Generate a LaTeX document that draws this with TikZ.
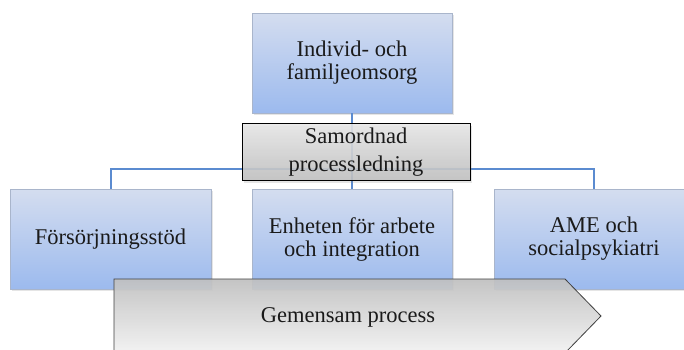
\documentclass[tikz,border=0pt]{standalone}
\usepackage{fontspec}
\setmainfont{Liberation Serif}
\usetikzlibrary{shadows}
\definecolor{bluetop}{HTML}{D4DDEF}
\definecolor{bluebot}{HTML}{9CBAEE}
\definecolor{blueedge}{HTML}{A9B5CB}
\definecolor{conncol}{HTML}{5B8BD0}
\definecolor{graytop}{HTML}{E8E8E8}
\definecolor{graybot}{HTML}{C0C0C0}
\definecolor{arrtop}{HTML}{C0C0C0}
\definecolor{arrbot}{HTML}{F2F2F2}
\definecolor{txt}{HTML}{1A1A1A}
\tikzset{
  unitbox/.style={rectangle, draw=blueedge, line width=0.8pt, top color=bluetop, bottom color=bluebot,
    minimum width=200pt, minimum height=100pt, inner sep=0pt, align=center, text=txt,
    font=\rmfamily\fontsize{22.5}{23}\selectfont,
    drop shadow={opacity=0.2, shadow xshift=1.5pt, shadow yshift=-2pt}},
  coordbox/.style={rectangle, draw=black, line width=0.9pt, top color=graytop, bottom color=graybot,
    fill opacity=0.88, text opacity=1, minimum width=228pt, minimum height=57pt, inner sep=0pt, align=center, text=txt,
    font=\rmfamily\fontsize{22.5}{28}\selectfont,
    drop shadow={opacity=0.2, shadow xshift=1.5pt, shadow yshift=-2pt}},
  procarrow/.style={draw=black!75, line width=0.8pt,
    top color=arrtop, bottom color=arrbot, fill opacity=0.92},
  proctext/.style={text=txt, font=\rmfamily\fontsize{22.5}{23}\selectfont, inner sep=0pt},
  conn/.style={draw=conncol, line width=2pt},
}
\begin{document}
\begin{tikzpicture}[x=1pt,y=-1pt]
\clip (0,0) rectangle (684,349);
\fill[white] (0,0) rectangle (684,349);
\node[unitbox] (top) at (352,63) {Individ- och\\familjeomsorg};
\node[unitbox, minimum width=201pt] (left) at (110.5,239) {Försörjningsstöd};
\node[unitbox] (mid) at (352,239) {Enheten för arbete\\och integration};
\node[unitbox] (right) at (594,239) {AME och\\socialpsykiatri};
\coordinate (bus) at (352,169);
\draw[conn] (top.south) -- (mid.north);
\draw[conn] (left.north) |- (bus) -| (right.north);
\node[coordbox] (samord) at (356,152) {Samordnad\\processledning};
\path[procarrow] (114,279) -- (565,279) -- (601,316) -- (565,353) -- (114,353) -- cycle;
\node[proctext] (proc) at (348,317) {Gemensam process};
\end{tikzpicture}
\end{document}
